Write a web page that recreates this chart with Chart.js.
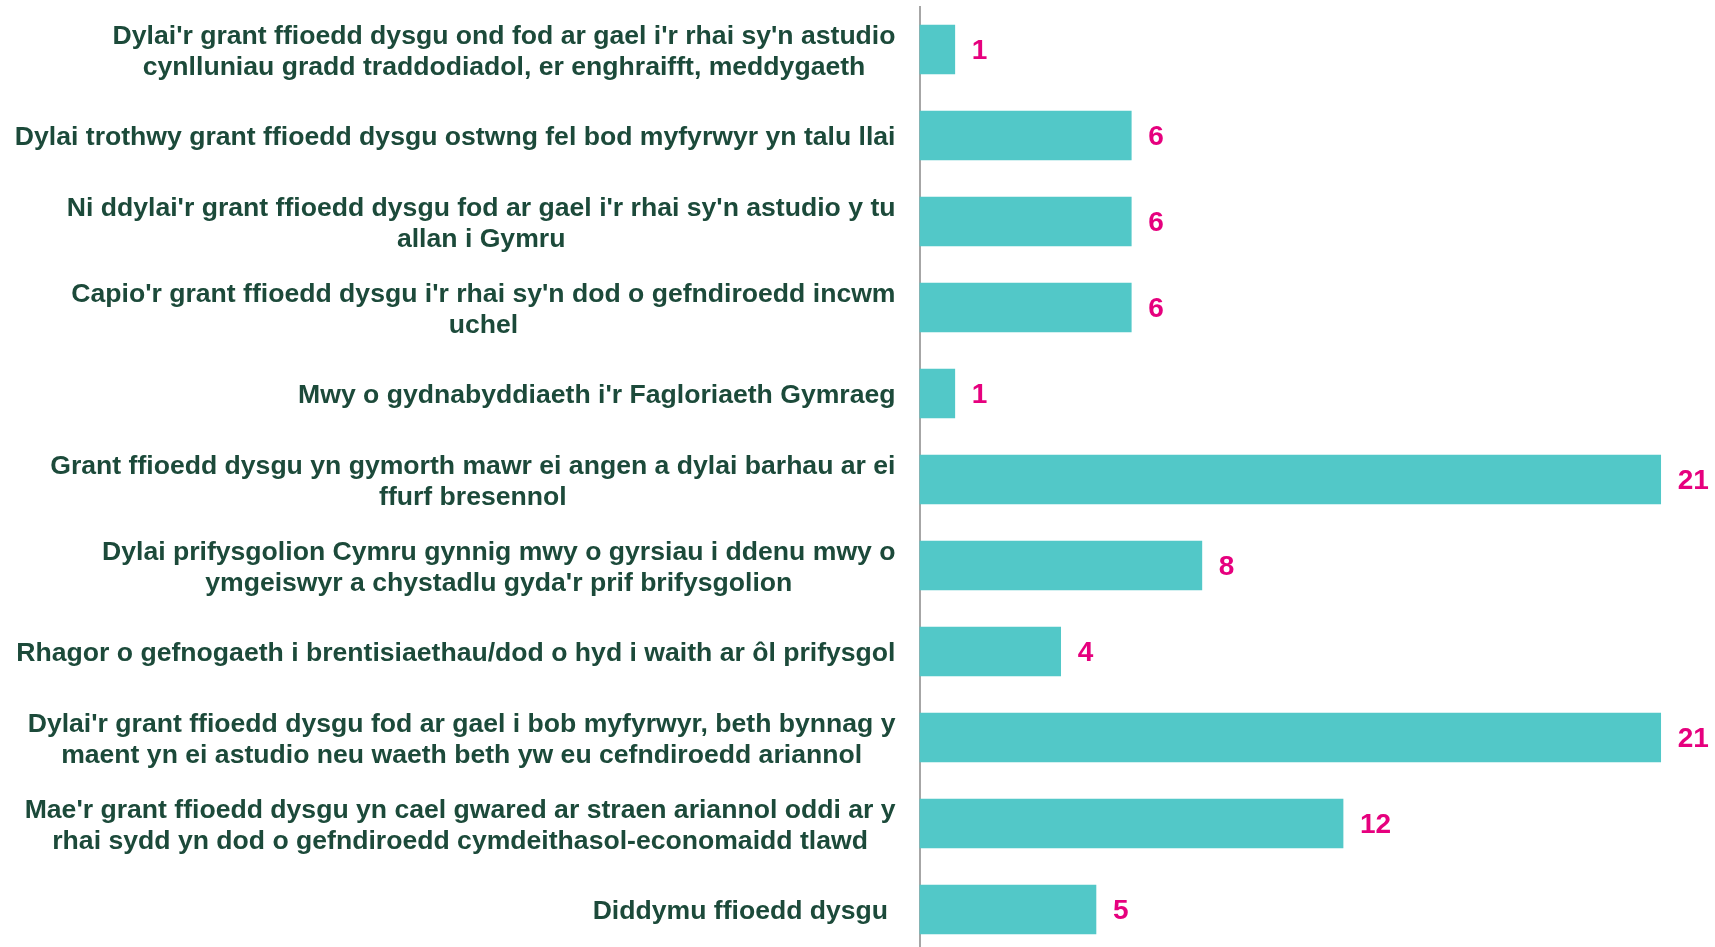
<!DOCTYPE html>
<html>
<head>
<meta charset="utf-8">
<script src="https://cdn.jsdelivr.net/npm/chart.js@4"></script>
<style>
  html, body { margin: 0; padding: 0; background: #fff; overflow: hidden; }
  #wrap { width: 1715px; height: 960px; position: relative; }
</style>
</head>
<body>
<div id="wrap"><canvas id="chart"></canvas></div>
<script>
// categories (top to bottom)
const categories = [
  ["Dylai'r grant ffioedd dysgu ond fod ar gael i'r rhai sy'n astudio", "cynlluniau gradd traddodiadol, er enghraifft, meddygaeth"],
  "Dylai trothwy grant ffioedd dysgu ostwng fel bod myfyrwyr yn talu llai",
  ["Ni ddylai'r grant ffioedd dysgu fod ar gael i'r rhai sy'n astudio y tu", "allan i Gymru"],
  ["Capio'r grant ffioedd dysgu i'r rhai sy'n dod o gefndiroedd incwm", "uchel"],
  "Mwy o gydnabyddiaeth i'r Fagloriaeth Gymraeg",
  ["Grant ffioedd dysgu yn gymorth mawr ei angen a dylai barhau ar ei", "ffurf bresennol"],
  ["Dylai prifysgolion Cymru gynnig mwy o gyrsiau i ddenu mwy o", "ymgeiswyr a chystadlu gyda'r prif brifysgolion"],
  "Rhagor o gefnogaeth i brentisiaethau/dod o hyd i waith ar ôl prifysgol",
  ["Dylai'r grant ffioedd dysgu fod ar gael i bob myfyrwyr, beth bynnag y", "maent yn ei astudio neu waeth beth yw eu cefndiroedd ariannol"],
  ["Mae'r grant ffioedd dysgu yn cael gwared ar straen ariannol oddi ar y", "rhai sydd yn dod o gefndiroedd cymdeithasol-economaidd tlawd"],
  "Diddymu ffioedd dysgu "
];
const counts = [1, 6, 6, 6, 1, 21, 8, 4, 21, 12, 5];

const BAR_COLOR = '#52c8c8';
const VALUE_COLOR = '#e6007e';
const LABEL_COLOR = '#1c4a3a';
const LABEL_FONT = 'bold 26.6px "Liberation Sans", Arial, sans-serif';
const LINE_H = 30.6;

// category labels: block right-aligned to the axis, lines centred inside the block
const categoryLabels = {
  id: 'categoryLabels',
  afterDraw(chart) {
    const ctx = chart.ctx;
    const yScale = chart.scales.y;
    const right = chart.chartArea.left - 24;
    ctx.save();
    ctx.font = LABEL_FONT;
    ctx.fillStyle = LABEL_COLOR;
    ctx.textAlign = 'center';
    ctx.textBaseline = 'middle';
    chart.data.labels.forEach((lab, i) => {
      const lines = Array.isArray(lab) ? lab : [lab];
      const maxW = Math.max(...lines.map(l => ctx.measureText(l).width));
      const cx = right - maxW / 2;
      const y0 = yScale.getPixelForTick(i);
      lines.forEach((l, k) => {
        ctx.fillText(l, cx, y0 + (k - (lines.length - 1) / 2) * LINE_H + 2.5);
      });
    });
    ctx.restore();
  }
};

// value labels after the bar end
const valueLabels = {
  id: 'valueLabels',
  afterDatasetsDraw(chart) {
    const ctx = chart.ctx;
    const meta = chart.getDatasetMeta(0);
    ctx.save();
    ctx.font = 'bold 28px "Liberation Sans", Arial, sans-serif';
    ctx.fillStyle = VALUE_COLOR;
    ctx.textAlign = 'left';
    ctx.textBaseline = 'middle';
    meta.data.forEach((bar, i) => {
      ctx.fillText(String(counts[i]), bar.x + 17, bar.y + 1.5);
    });
    ctx.restore();
  }
};

const ctx = document.getElementById('chart').getContext('2d');
new Chart(ctx, {
  type: 'bar',
  data: {
    labels: categories,
    datasets: [{ data: counts, backgroundColor: BAR_COLOR, borderWidth: 0, barThickness: 49 }]
  },
  options: {
    indexAxis: 'y',
    animation: false, responsive: true, maintainAspectRatio: false,
    layout: { padding: { top: 6.5, bottom: 7.5, left: 0, right: 19 } },
    scales: {
      x: {
        min: 0, max: 22,
        display: false,
        grid: { display: false }
      },
      y: {
        afterFit(scale) {
          scale.width = 919.5;
          scale.paddingTop = 0;
          scale.paddingBottom = 0;
        },
        grid: { display: false, drawTicks: false },
        border: { display: true, color: '#a6a6a6', width: 2 },
        ticks: { display: false }
      }
    },
    plugins: { legend: { display: false }, tooltip: { enabled: false } }
  },
  plugins: [categoryLabels, valueLabels]
});
</script>
</body>
</html>
